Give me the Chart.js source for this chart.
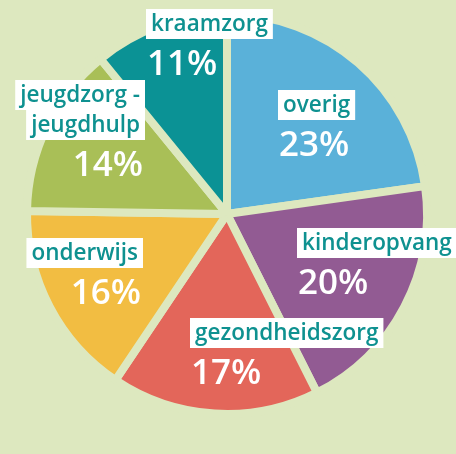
<!DOCTYPE html>
<html>
<head>
<meta charset="utf-8">
<script src="https://cdn.jsdelivr.net/npm/chart.js@4/dist/chart.umd.min.js"></script>
<style>
  html, body { margin: 0; padding: 0; background: #dde8bf; }
  #wrap { width: 456px; height: 454px; position: relative; }
</style>
</head>
<body>
<div id="wrap"><canvas id="pie"></canvas></div>
<script>
const categories = ['overig', 'kinderopvang', 'gezondheidszorg', 'onderwijs', 'jeugdzorg - jeugdhulp', 'kraamzorg'];
const shares = [23, 20, 17, 16, 14, 11];
const colors = ['#5ab1d9', '#925b93', '#e3665a', '#f2bd42', '#a9bf57', '#0b9295'];

const BG = '#dde8bf';
const TEAL = '#0e9190';

// where each label block sits, relative to the pie centre
const labelSpots = [
  { align: 'left',  dx: 51,  dy: -124 },
  { align: 'left',  dx: 70,  dy: 14 },
  { align: 'left',  dx: -37, dy: 104 },
  { align: 'right', dx: -84, dy: 24 },
  { align: 'right', dx: -82, dy: -134 },
  { align: 'left',  dx: -81, dy: -205 }
];

const sliceLabels = {
  id: 'sliceLabels',
  afterDatasetsDraw(chart) {
    const ctx = chart.ctx;
    const arc = chart.getDatasetMeta(0).data[0];
    const cx = arc.x, cy = arc.y;
    ctx.save();
    categories.forEach((name, i) => {
      const spot = labelSpots[i];
      const lines = name === 'jeugdzorg - jeugdhulp' ? ['jeugdzorg -', 'jeugdhulp'] : [name];
      const x = cx + spot.dx;
      let y = cy + spot.dy;
      ctx.font = '600 22.5px "Open Sans"';
      lines.forEach(line => {
        const w = ctx.measureText(line).width + 10;
        const left = spot.align === 'left' ? x : x - w;
        ctx.fillStyle = '#ffffff';
        ctx.fillRect(left, y, w, 30);
        ctx.fillStyle = TEAL;
        ctx.textAlign = 'left';
        ctx.textBaseline = 'alphabetic';
        ctx.fillText(line, left + 5, y + 22);
        y += 30;
      });
      ctx.font = '600 35px "Open Sans"';
      ctx.fillStyle = '#ffffff';
      ctx.textAlign = spot.align;
      ctx.fillText(shares[i] + '%', spot.align === 'left' ? x + 1 : x - 2, y + 36);
    });
    ctx.restore();
  }
};

new Chart(document.getElementById('pie'), {
  type: 'pie',
  data: {
    labels: categories,
    datasets: [{
      data: shares,
      backgroundColor: colors,
      borderColor: BG,
      borderWidth: 8,
      hoverOffset: 0
    }]
  },
  options: {
    responsive: true,
    maintainAspectRatio: false,
    animation: false,
    layout: { padding: { top: 10, bottom: 36, left: 23, right: 25 } },
    plugins: {
      legend: { display: false },
      tooltip: { enabled: false }
    }
  },
  plugins: [sliceLabels]
});
</script>
</body>
</html>
